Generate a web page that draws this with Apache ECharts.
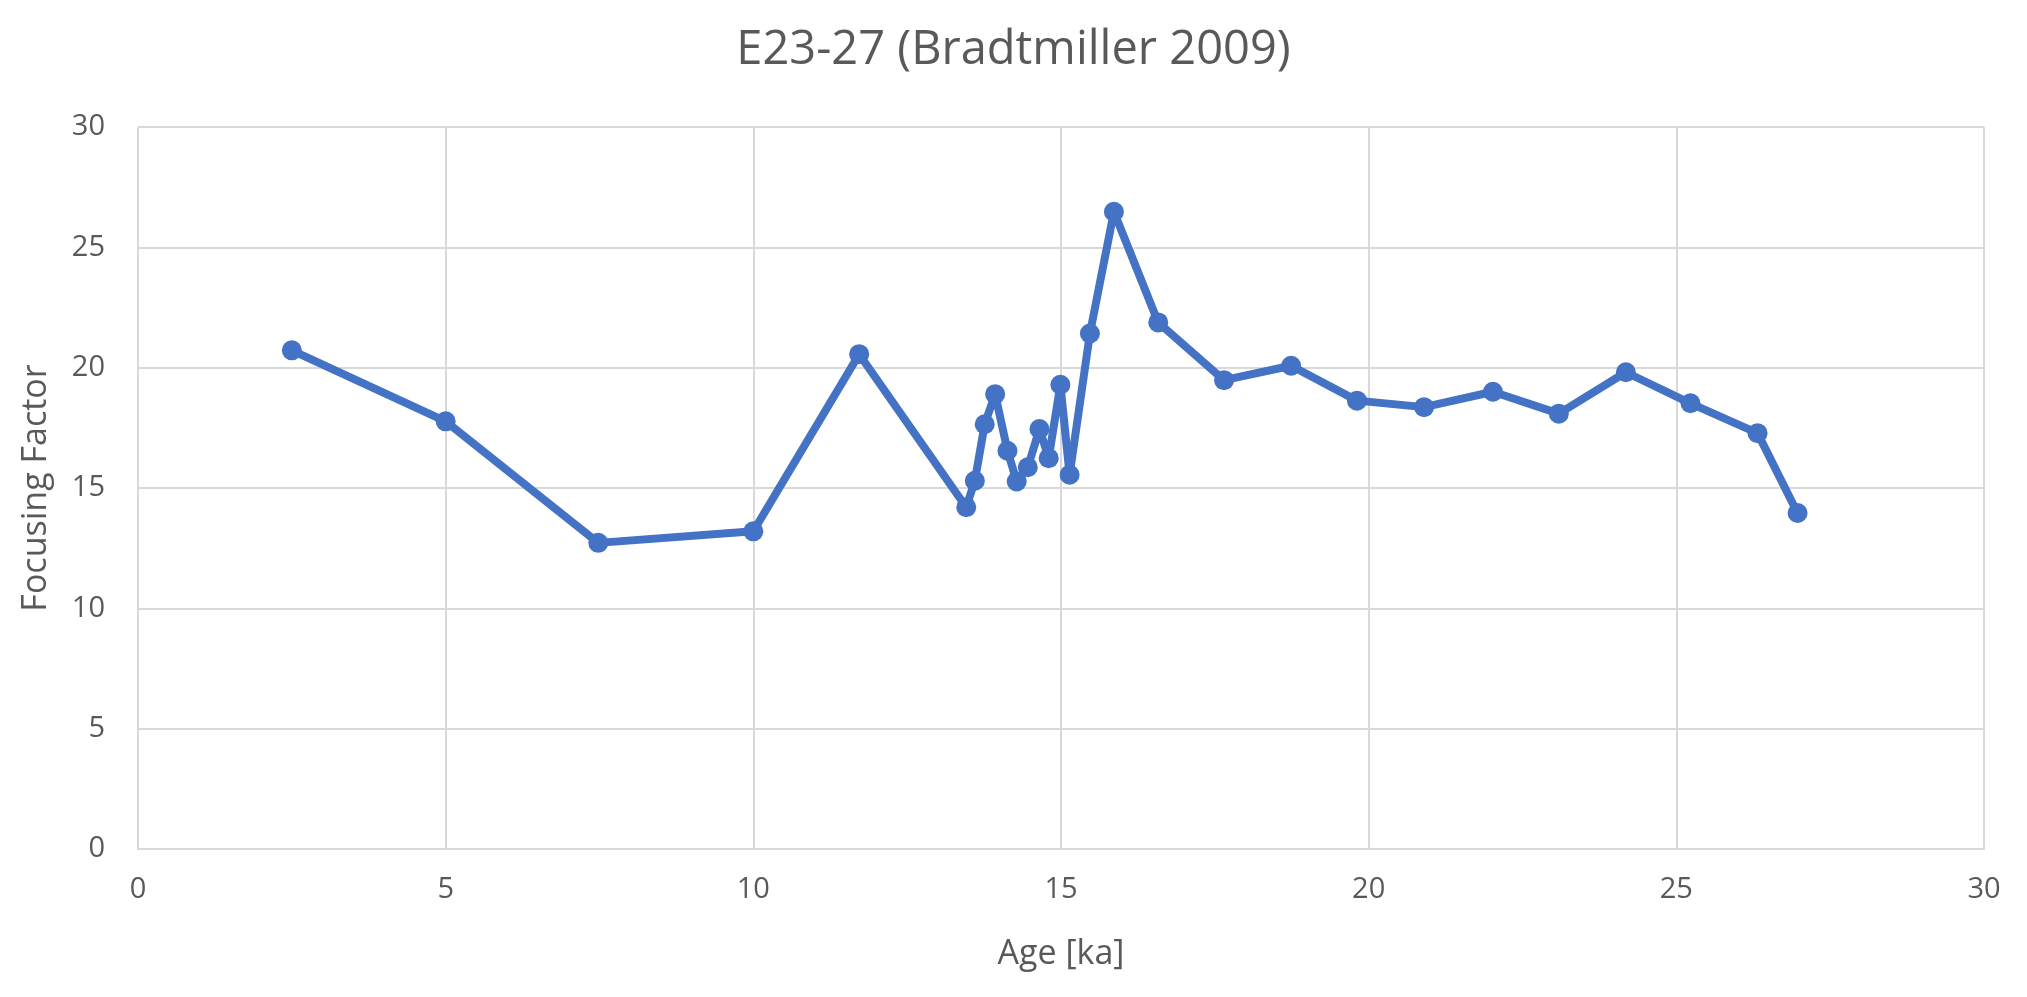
<!DOCTYPE html>
<html>
<head>
<meta charset="utf-8">
<script src="https://cdn.jsdelivr.net/npm/echarts@6/dist/echarts.min.js"></script>
<style>
  html, body { margin: 0; padding: 0; background: #fff; }
  #main { width: 2027px; height: 997px; }
</style>
</head>
<body>
<div id="main"></div>
<script>
// E23-27 focusing factor vs age
var ageKa = [2.5, 5.0, 7.48, 10.0, 11.72, 13.46, 13.6, 13.76, 13.93, 14.13, 14.28, 14.46, 14.65, 14.8, 14.99, 15.14, 15.47, 15.86, 16.58, 17.65, 18.74, 19.81, 20.9, 22.02, 23.09, 24.18, 25.23, 26.32, 26.97];
var focusing = [20.72, 17.77, 12.72, 13.2, 20.56, 14.2, 15.3, 17.65, 18.9, 16.55, 15.27, 15.86, 17.45, 16.24, 19.29, 15.55, 21.42, 26.48, 21.88, 19.48, 20.08, 18.63, 18.36, 19.0, 18.09, 19.81, 18.52, 17.28, 13.96];
var xTicks = [0, 5, 10, 15, 20, 25, 30];
var yTicks = [0, 5, 10, 15, 20, 25, 30];

var seriesData = [];
for (var i = 0; i < ageKa.length; i++) {
    seriesData.push([ageKa[i], focusing[i]]);
}

var textColor = "#595959";
var gridColor = "#d9d9d9";
var fontFam = "'Open Sans', 'Liberation Sans', sans-serif";

var myChart = echarts.init(document.getElementById('main'));
var option = {
    animation: false,
    title: {
        text: 'E23-27 (Bradtmiller 2009)',
        left: 'center',
        top: 22,
        textStyle: { color: textColor, fontSize: 47, fontWeight: 'normal', fontFamily: fontFam }
    },
    grid: { left: 138, right: 43, top: 127, bottom: 148 },
    xAxis: {
        type: 'value',
        min: xTicks[0],
        max: xTicks[xTicks.length - 1],
        interval: 5,
        name: 'Age [ka]',
        nameLocation: 'middle',
        nameGap: 88,
        nameTextStyle: { color: textColor, fontSize: 34, fontFamily: fontFam },
        axisLine: { show: true, lineStyle: { color: gridColor, width: 2 } },
        axisTick: { show: false },
        axisLabel: { color: textColor, fontSize: 29, margin: 26, fontFamily: fontFam },
        splitLine: { show: true, lineStyle: { color: gridColor, width: 2 } }
    },
    yAxis: {
        type: 'value',
        min: yTicks[0],
        max: yTicks[yTicks.length - 1],
        interval: 5,
        name: 'Focusing Factor',
        nameLocation: 'middle',
        nameGap: 85,
        nameTextStyle: { color: textColor, fontSize: 34, fontFamily: fontFam },
        axisLine: { show: false },
        axisTick: { show: false },
        axisLabel: { color: textColor, fontSize: 29, margin: 33, fontFamily: fontFam },
        splitLine: { show: true, lineStyle: { color: gridColor, width: 2 } }
    },
    series: [{
        name: 'Focusing Factor',
        type: 'line',
        data: seriesData,
        symbol: 'circle',
        symbolSize: 20,
        itemStyle: { color: '#4472C4' },
        lineStyle: { color: '#4472C4', width: 8 }
    }]
};
myChart.setOption(option);
window.myChart = myChart;
</script>
</body>
</html>
